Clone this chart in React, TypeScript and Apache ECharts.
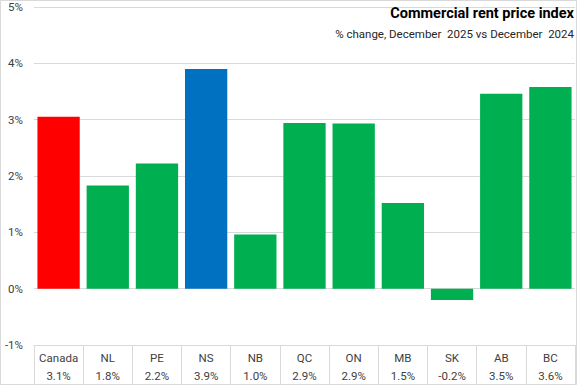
import React, { useEffect, useRef } from "react";
import * as echarts from "echarts";

const categories = ["Canada", "NL", "PE", "NS", "NB", "QC", "ON", "MB", "SK", "AB", "BC"];
const values = [3.05, 1.83, 2.22, 3.9, 0.96, 2.94, 2.93, 1.52, -0.2, 3.46, 3.58];
const valueLabels = ["3.1%", "1.8%", "2.2%", "3.9%", "1.0%", "2.9%", "2.9%", "1.5%", "-0.2%", "3.5%", "3.6%"];
const barColors = ["#FF0000", "#00B050", "#00B050", "#0070C0", "#00B050", "#00B050", "#00B050", "#00B050", "#00B050", "#00B050", "#00B050"];
const title = "Commercial rent price index";
const subtitle = "% change, December  2025 vs December  2024";

const FONT = "Roboto, 'Noto Sans', sans-serif";

export default function App() {
  const ref = useRef<HTMLDivElement>(null);
  useEffect(() => {
    if (!ref.current) return;
    const chart = echarts.init(ref.current, null, { renderer: "svg" });
    chart.setOption({
      animation: false,
      textStyle: { fontFamily: FONT },
      graphic: [
        {
          type: "rect",
          shape: { x: 0.5, y: 0.5, width: 576, height: 384 },
          style: { fill: "none", stroke: "#d9d9d9", lineWidth: 1 },
          silent: true,
        },
        {
          type: "text",
          right: 3,
          top: 6,
          z: 10,
          style: { text: title, font: `bold 14.5px ${FONT}`, fill: "#000", textAlign: "right" },
        },
        {
          type: "text",
          right: 3,
          top: 28,
          z: 10,
          style: { text: subtitle, font: `11.5px ${FONT}`, fill: "#262626", textAlign: "right" },
        },
      ],
      grid: { left: 34, right: 2, top: 7, bottom: 39, containLabel: false },
      xAxis: {
        type: "category",
        data: categories.map((c, i) => c + "\n" + valueLabels[i]),
        boundaryGap: true,
        axisLine: { onZero: false, lineStyle: { color: "#d9d9d9" } },
        axisTick: { show: true, interval: 0, length: 40, lineStyle: { color: "#d9d9d9" } },
        axisLabel: { interval: 0, color: "#404040", fontSize: 11.5, lineHeight: 18, margin: 4 },
      },
      yAxis: {
        type: "value",
        min: -1,
        max: 5,
        interval: 1,
        axisLine: { show: false },
        axisTick: { show: false },
        axisLabel: { formatter: "{value}%", color: "#404040", fontSize: 11.5, margin: 11 },
        splitLine: { lineStyle: { color: "#d9d9d9" } },
      },
      series: [
        {
          type: "bar",
          data: values.map((v, i) => ({ value: v, itemStyle: { color: barColors[i] } })),
          barCategoryGap: "14%",
        },
      ],
    });
    return () => chart.dispose();
  }, []);
  return <div ref={ref} style={{ position: "absolute", left: 0, top: 0, width: 577, height: 385, background: "#fff" }} />;
}
